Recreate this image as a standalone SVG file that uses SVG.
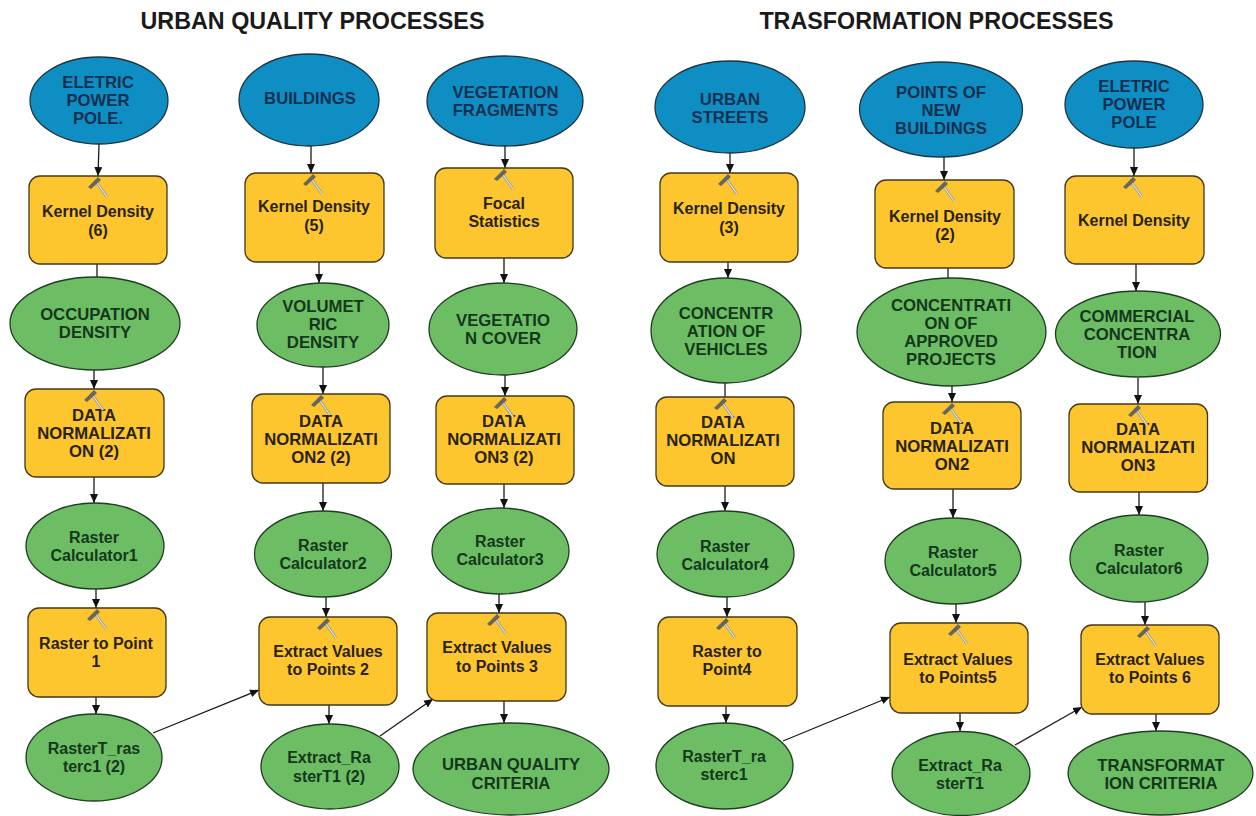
<svg xmlns="http://www.w3.org/2000/svg" xmlns:xlink="http://www.w3.org/1999/xlink" width="1256" height="816" viewBox="0 0 1256 816">
<style>
text{font-family:"Liberation Sans",Arial,sans-serif;font-weight:700;text-anchor:middle}
.t{font-size:23.3px;fill:#1a1a1a}
.l{font-size:16px}
.u{font-size:16.7px}
.bt{fill:#12304f}
.yt{fill:#2a2212}
.gt{fill:#15381c}
.b{fill:#0f8ec4;stroke:#1c3440;stroke-width:1.3}
.y{fill:#fdc62f;stroke:#44381a;stroke-width:1.3}
.g{fill:#6cbd64;stroke:#1f3d22;stroke-width:1.3}
.c{fill:none;stroke:#1a1a1a;stroke-width:1.3}
</style>
<defs>
<marker id="a" markerUnits="userSpaceOnUse" markerWidth="10" markerHeight="10" refX="9" refY="5" orient="auto"><path d="M0 1 L9 5 L0 9Z" fill="#111"/></marker>
<g id="h"><path d="M-3-8 L9 9" stroke="#a3a294" stroke-width="3" fill="none"/><path d="M-3-8 L9 9" stroke="#f2f0e2" stroke-width="1" fill="none"/><path d="M-10-1 L0-11 L3-8 L-7 1Z" fill="#66655e"/></g>
</defs>
<text class="t" x="312.5" y="29">URBAN QUALITY PROCESSES</text>
<text class="t" x="936.5" y="29">TRASFORMATION PROCESSES</text>
<g id="connectors">
<path class="c" marker-end="url(#a)" d="M99 144L98 176"/>
<path class="c" d="M97 264V277"/>
<path class="c" marker-end="url(#a)" d="M94 370V389"/>
<path class="c" marker-end="url(#a)" d="M94 477V503"/>
<path class="c" marker-end="url(#a)" d="M96 589V608"/>
<path class="c" marker-end="url(#a)" d="M96 697V714"/>
<path class="c" marker-end="url(#a)" d="M153 733L259 690"/>
<path class="c" marker-end="url(#a)" d="M311 146V173"/>
<path class="c" marker-end="url(#a)" d="M319 262V283"/>
<path class="c" marker-end="url(#a)" d="M323 367V394"/>
<path class="c" marker-end="url(#a)" d="M323 483V511"/>
<path class="c" marker-end="url(#a)" d="M326 597V617"/>
<path class="c" marker-end="url(#a)" d="M329 705V724"/>
<path class="c" marker-end="url(#a)" d="M380 736L433 699"/>
<path class="c" marker-end="url(#a)" d="M505 146V168"/>
<path class="c" marker-end="url(#a)" d="M504 258V283"/>
<path class="c" marker-end="url(#a)" d="M505 375V396"/>
<path class="c" marker-end="url(#a)" d="M504 484V508"/>
<path class="c" marker-end="url(#a)" d="M499 594V613"/>
<path class="c" marker-end="url(#a)" d="M504 701V723"/>
<path class="c" marker-end="url(#a)" d="M730 153V173"/>
<path class="c" marker-end="url(#a)" d="M728 262V278"/>
<path class="c" d="M725 383V397"/>
<path class="c" marker-end="url(#a)" d="M725 486V511"/>
<path class="c" marker-end="url(#a)" d="M727 597V617"/>
<path class="c" marker-end="url(#a)" d="M726 706V723"/>
<path class="c" marker-end="url(#a)" d="M783 741L890 697"/>
<path class="c" marker-end="url(#a)" d="M944 157V180"/>
<path class="c" d="M948 268V278"/>
<path class="c" marker-end="url(#a)" d="M952 386V402"/>
<path class="c" marker-end="url(#a)" d="M953 488V518"/>
<path class="c" marker-end="url(#a)" d="M956 604V623"/>
<path class="c" marker-end="url(#a)" d="M960 713V731"/>
<path class="c" marker-end="url(#a)" d="M1015 745L1082 707"/>
<path class="c" marker-end="url(#a)" d="M1134 148V176"/>
<path class="c" marker-end="url(#a)" d="M1136 264V291"/>
<path class="c" marker-end="url(#a)" d="M1138 378V404"/>
<path class="c" marker-end="url(#a)" d="M1139 492V515"/>
<path class="c" marker-end="url(#a)" d="M1145 602V625"/>
<path class="c" marker-end="url(#a)" d="M1156 714V731"/>
</g>
<g id="n1"><ellipse class="b" cx="99" cy="100.5" rx="69" ry="43.5"/><text class="u bt" x="98" y="88">ELETRIC</text><text class="u bt" x="98" y="106">POWER</text><text class="u bt" x="98" y="124">POLE.</text></g>
<g id="n2"><rect class="y" x="29" y="176" width="138" height="88" rx="11"/><text class="l yt" x="98" y="217">Kernel Density</text><text class="l yt" x="98" y="236">(6)</text><use xlink:href="#h" href="#h" x="98" y="188"/></g>
<g id="n3"><ellipse class="g" cx="95" cy="323.5" rx="85" ry="46.5"/><text class="u gt" x="95" y="320">OCCUPATION</text><text class="u gt" x="95" y="338">DENSITY</text></g>
<g id="n4"><rect class="y" x="25" y="389" width="139" height="88" rx="11"/><text class="u yt" x="94" y="421">DATA</text><text class="u yt" x="94" y="439">NORMALIZATI</text><text class="u yt" x="94" y="457">ON (2)</text><use xlink:href="#h" href="#h" x="94" y="401"/></g>
<g id="n5"><ellipse class="g" cx="95" cy="546" rx="69" ry="43"/><text class="l gt" x="94" y="543">Raster</text><text class="l gt" x="94" y="561">Calculator1</text></g>
<g id="n6"><rect class="y" x="28" y="608" width="138" height="89" rx="11"/><text class="l yt" x="96" y="649">Raster to Point</text><text class="l yt" x="96" y="667">1</text><use xlink:href="#h" href="#h" x="97" y="620"/></g>
<g id="n7"><ellipse class="g" cx="94" cy="757.5" rx="68" ry="43.5"/><text class="l gt" x="94" y="754">RasterT_ras</text><text class="l gt" x="94" y="772">terc1 (2)</text></g>

<g id="n8"><ellipse class="b" cx="309" cy="100" rx="70" ry="46"/><text class="u bt" x="310" y="104">BUILDINGS</text></g>
<g id="n9"><rect class="y" x="245" y="173" width="139" height="89" rx="11"/><text class="l yt" x="314" y="212">Kernel Density</text><text class="l yt" x="314" y="231">(5)</text><use xlink:href="#h" href="#h" x="313" y="185"/></g>
<g id="n10"><ellipse class="g" cx="323" cy="325" rx="66" ry="42"/><text class="u gt" x="323" y="312">VOLUMET</text><text class="u gt" x="323" y="330">RIC</text><text class="u gt" x="323" y="348">DENSITY</text></g>
<g id="n11"><rect class="y" x="252" y="394" width="138" height="89" rx="11"/><text class="u yt" x="321" y="427">DATA</text><text class="u yt" x="321" y="445">NORMALIZATI</text><text class="u yt" x="321" y="463">ON2 (2)</text><use xlink:href="#h" href="#h" x="321" y="406"/></g>
<g id="n12"><ellipse class="g" cx="323" cy="554" rx="68.5" ry="43"/><text class="l gt" x="323" y="551">Raster</text><text class="l gt" x="323" y="569">Calculator2</text></g>
<g id="n13"><rect class="y" x="259" y="617" width="138" height="88" rx="11"/><text class="l yt" x="328" y="657">Extract Values</text><text class="l yt" x="328" y="675">to Points 2</text><use xlink:href="#h" href="#h" x="327" y="629"/></g>
<g id="n14"><ellipse class="g" cx="330" cy="766.5" rx="69" ry="42.5"/><text class="l gt" x="329" y="763">Extract_Ra</text><text class="l gt" x="329" y="782">sterT1 (2)</text></g>

<g id="n15"><ellipse class="b" cx="505" cy="101" rx="78" ry="45"/><text class="u bt" x="505.5" y="98">VEGETATION</text><text class="u bt" x="505.5" y="116">FRAGMENTS</text></g>
<g id="n16"><rect class="y" x="435" y="168" width="138" height="90" rx="11"/><text class="l yt" x="504" y="209">Focal</text><text class="l yt" x="504" y="227">Statistics</text><use xlink:href="#h" href="#h" x="504" y="180"/></g>
<g id="n17"><ellipse class="g" cx="503" cy="329" rx="74" ry="46"/><text class="u gt" x="503" y="326">VEGETATIO</text><text class="u gt" x="503" y="344">N COVER</text></g>
<g id="n18"><rect class="y" x="436" y="396" width="138" height="88" rx="11"/><text class="u yt" x="504" y="427">DATA</text><text class="u yt" x="504" y="445">NORMALIZATI</text><text class="u yt" x="504" y="463">ON3 (2)</text><use xlink:href="#h" href="#h" x="504" y="408"/></g>
<g id="n19"><ellipse class="g" cx="500.5" cy="551" rx="68.5" ry="43"/><text class="l gt" x="500" y="547">Raster</text><text class="l gt" x="500" y="565">Calculator3</text></g>
<g id="n20"><rect class="y" x="427" y="613" width="139" height="88" rx="11"/><text class="l yt" x="497" y="653">Extract Values</text><text class="l yt" x="497" y="672">to Points 3</text><use xlink:href="#h" href="#h" x="497" y="625"/></g>
<g id="n21"><ellipse class="g" cx="511" cy="769" rx="98" ry="46"/><text class="u gt" x="511" y="770">URBAN QUALITY</text><text class="u gt" x="511" y="789">CRITERIA</text></g>

<g id="n22"><ellipse class="b" cx="730" cy="107" rx="75" ry="46"/><text class="u bt" x="730" y="105">URBAN</text><text class="u bt" x="730" y="123">STREETS</text></g>
<g id="n23"><rect class="y" x="660" y="173" width="138" height="89" rx="11"/><text class="l yt" x="729" y="214">Kernel Density</text><text class="l yt" x="729" y="233">(3)</text><use xlink:href="#h" href="#h" x="728" y="185"/></g>
<g id="n24"><ellipse class="g" cx="726" cy="330.5" rx="75" ry="52.5"/><text class="u gt" x="726" y="319">CONCENTR</text><text class="u gt" x="726" y="337">ATION OF</text><text class="u gt" x="726" y="355">VEHICLES</text></g>
<g id="n25"><rect class="y" x="656" y="397" width="138" height="89" rx="11"/><text class="u yt" x="723" y="428">DATA</text><text class="u yt" x="723" y="446">NORMALIZATI</text><text class="u yt" x="723" y="464">ON</text><use xlink:href="#h" href="#h" x="724" y="409"/></g>
<g id="n26"><ellipse class="g" cx="725.5" cy="554" rx="68.5" ry="43"/><text class="l gt" x="725" y="552">Raster</text><text class="l gt" x="725" y="570">Calculator4</text></g>
<g id="n27"><rect class="y" x="658" y="617" width="139" height="89" rx="11"/><text class="l yt" x="727" y="657">Raster to</text><text class="l yt" x="727" y="675">Point4</text><use xlink:href="#h" href="#h" x="726" y="629"/></g>
<g id="n28"><ellipse class="g" cx="724.5" cy="766" rx="68.5" ry="43"/><text class="l gt" x="724" y="762">RasterT_ra</text><text class="l gt" x="724" y="780">sterc1</text></g>

<g id="n29"><ellipse class="b" cx="941" cy="109.5" rx="81.5" ry="47.5"/><text class="u bt" x="941" y="98">POINTS OF</text><text class="u bt" x="941" y="116">NEW</text><text class="u bt" x="941" y="134">BUILDINGS</text></g>
<g id="n30"><rect class="y" x="875" y="180" width="139" height="88" rx="11"/><text class="l yt" x="945" y="222">Kernel Density</text><text class="l yt" x="945" y="240">(2)</text><use xlink:href="#h" href="#h" x="945" y="192"/></g>
<g id="n31"><ellipse class="g" cx="951.5" cy="332" rx="94.5" ry="54"/><text class="u gt" x="951" y="311">CONCENTRATI</text><text class="u gt" x="951" y="329">ON OF</text><text class="u gt" x="951" y="347">APPROVED</text><text class="u gt" x="951" y="365">PROJECTS</text></g>
<g id="n32"><rect class="y" x="883" y="402" width="138" height="87" rx="11"/><text class="u yt" x="952" y="434">DATA</text><text class="u yt" x="952" y="452">NORMALIZATI</text><text class="u yt" x="952" y="470">ON2</text><use xlink:href="#h" href="#h" x="952" y="414"/></g>
<g id="n33"><ellipse class="g" cx="953" cy="561" rx="68" ry="43"/><text class="l gt" x="953" y="558">Raster</text><text class="l gt" x="953" y="576">Calculator5</text></g>
<g id="n34"><rect class="y" x="890" y="623" width="138" height="90" rx="11"/><text class="l yt" x="958" y="665">Extract Values</text><text class="l yt" x="958" y="683">to Points5</text><use xlink:href="#h" href="#h" x="958" y="635"/></g>
<g id="n35"><ellipse class="g" cx="961" cy="773.5" rx="69" ry="42"/><text class="l gt" x="960" y="771">Extract_Ra</text><text class="l gt" x="960" y="789">sterT1</text></g>

<g id="n36"><ellipse class="b" cx="1134" cy="104.5" rx="69" ry="43.5"/><text class="u bt" x="1134" y="92">ELETRIC</text><text class="u bt" x="1134" y="110">POWER</text><text class="u bt" x="1134" y="128">POLE</text></g>
<g id="n37"><rect class="y" x="1065" y="176" width="139" height="88" rx="11"/><text class="l yt" x="1134" y="226">Kernel Density</text><use xlink:href="#h" href="#h" x="1133" y="188"/></g>
<g id="n38"><ellipse class="g" cx="1138" cy="334" rx="82.5" ry="43"/><text class="u gt" x="1137" y="322">COMMERCIAL</text><text class="u gt" x="1137" y="340">CONCENTRA</text><text class="u gt" x="1137" y="358">TION</text></g>
<g id="n39"><rect class="y" x="1069" y="404" width="138.500" height="88" rx="11"/><text class="u yt" x="1138" y="435">DATA</text><text class="u yt" x="1138" y="453">NORMALIZATI</text><text class="u yt" x="1138" y="471">ON3</text><use xlink:href="#h" href="#h" x="1138" y="416"/></g>
<g id="n40"><ellipse class="g" cx="1139" cy="558.500" rx="69" ry="43.500"/><text class="l gt" x="1139" y="556">Raster</text><text class="l gt" x="1139" y="574">Calculator6</text></g>
<g id="n41"><rect class="y" x="1081" y="625" width="138" height="89" rx="11"/><text class="l yt" x="1150" y="665">Extract Values</text><text class="l yt" x="1150" y="683">to Points 6</text><use xlink:href="#h" href="#h" x="1147" y="637"/></g>
<g id="n42"><ellipse class="g" cx="1160.500" cy="773" rx="92.500" ry="42"/><text class="u gt" x="1161" y="771">TRANSFORMAT</text><text class="u gt" x="1161" y="789">ION CRITERIA</text></g>
</svg>
